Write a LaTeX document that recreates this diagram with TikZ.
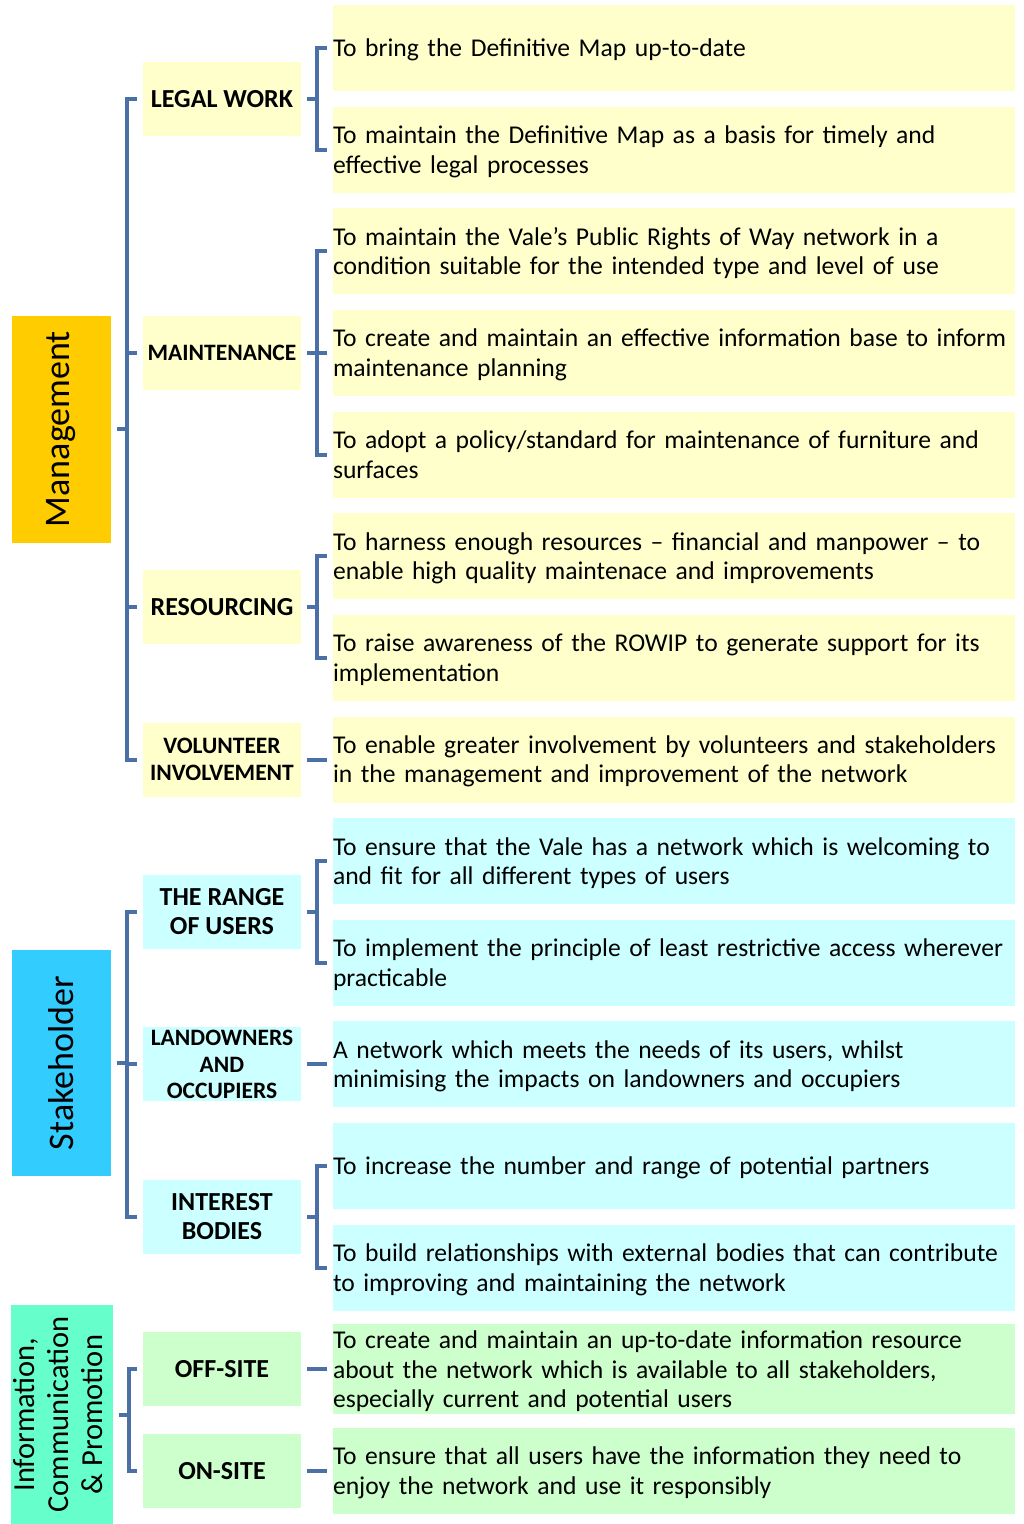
\documentclass[tikz,border=0pt]{standalone}
\usepackage{fontspec}
\setmainfont{Carlito}
\usetikzlibrary{positioning}

\definecolor{linkblue}{RGB}{74,112,165}
\definecolor{paleyellow}{RGB}{255,255,204}
\definecolor{palecyan}{RGB}{204,255,255}
\definecolor{palegreen}{RGB}{204,255,204}
\definecolor{mgmtgold}{RGB}{255,204,0}
\definecolor{stakeblue}{RGB}{51,204,255}
\definecolor{infoaqua}{RGB}{102,255,204}

\hyphenpenalty=10000
\newcommand\aimtop{\vrule height 0.95em depth 0pt width 0pt\relax}
\newcommand\aimbot{\vrule height 0pt depth 0.27em width 0pt\relax}

\tikzset{
  topic/.style={minimum width=99pt, inner sep=0pt, align=center,
    font=\fontsize{36}{40}\selectfont},
  theme/.style={minimum width=158pt, minimum height=74pt, inner sep=0pt,
    align=center, font=\bfseries\fontsize{26}{29}\selectfont},
  smalltheme/.style={theme, font=\bfseries\fontsize{23.5}{26.5}\selectfont},
  aim/.style={minimum width=682pt, minimum height=86pt, inner sep=0pt,
    text width=682pt, align=left, font=\fontsize{25.6}{29.5}\selectfont,
    execute at begin node=\aimtop, execute at end node=\aimbot},
  link/.style={draw=linkblue, line width=4pt}
}

\begin{document}
\begin{tikzpicture}[x=1pt,y=-1pt]
\useasboundingbox (0,0) rectangle (1024,1524);

% aims
\node[aim, fill=paleyellow] (a1) at (674,48) {To bring the Definitive Map up-to-date};
\node[aim, fill=paleyellow] (a2) at (674,149.6) {To maintain the Definitive Map as a basis for timely and\\effective legal processes};
\node[aim, fill=paleyellow] (a3) at (674,251.3) {To maintain the Vale’s Public Rights of Way network in a\\condition suitable for the intended type and level of use};
\node[aim, fill=paleyellow] (a4) at (674,352.9) {To create and maintain an effective information base to inform\\maintenance planning};
\node[aim, fill=paleyellow] (a5) at (674,454.6) {To adopt a policy/standard for maintenance of furniture and\\surfaces};
\node[aim, fill=paleyellow] (a6) at (674,556.2) {To harness enough resources – financial and manpower – to\\enable high quality maintenace and improvements};
\node[aim, fill=paleyellow] (a7) at (674,657.8) {To raise awareness of the ROWIP to generate support for its\\implementation};
\node[aim, fill=paleyellow] (a8) at (674,759.5) {To enable greater involvement by volunteers and stakeholders\\in the management and improvement of the network};
\node[aim, fill=palecyan] (a9) at (674,861.1) {To ensure that the Vale has a network which is welcoming to\\and fit for all different types of users};
\node[aim, fill=palecyan] (a10) at (674,962.8) {To implement the principle of least restrictive access wherever\\practicable};
\node[aim, fill=palecyan] (a11) at (674,1064.4) {A network which meets the needs of its users, whilst\\minimising the impacts on landowners and occupiers};
\node[aim, fill=palecyan] (a12) at (674,1166) {To increase the number and range of potential partners};
\node[aim, fill=palecyan] (a13) at (674,1267.7) {To build relationships with external bodies that can contribute\\to improving and maintaining the network};
\node[aim, fill=palegreen] (a14) at (674,1369.3) {To create and maintain an up-to-date information resource\\about the network which is available to all stakeholders,\\especially current and potential users};
\node[aim, fill=palegreen] (a15) at (674,1471) {To ensure that all users have the information they need to\\enjoy the network and use it responsibly};

% themes
\node[theme, fill=paleyellow] (legal) at (222,99) {LEGAL WORK};
\node[smalltheme, fill=paleyellow] (maint) at (222,352.9) {MAINTENANCE};
\node[theme, fill=paleyellow] (resrc) at (222,607) {RESOURCING};
\node[smalltheme, fill=paleyellow] (volun) at (222,759.5) {VOLUNTEER\\INVOLVEMENT};
\node[theme, fill=palecyan] (range) at (222,912) {THE RANGE\\OF USERS};
\node[smalltheme, fill=palecyan] (owners) at (222,1064.4) {LANDOWNERS\\AND\\OCCUPIERS};
\node[theme, fill=palecyan] (bodies) at (222,1216.8) {INTEREST\\BODIES};
\node[theme, fill=palegreen] (offsite) at (222,1369.3) {OFF-SITE};
\node[theme, fill=palegreen] (onsite) at (222,1471) {ON-SITE};

% topics
\node[topic, minimum height=227pt, fill=mgmtgold] (mgmt) at (61.5,429) {\rotatebox{90}{Management}};
\node[topic, minimum height=226pt, fill=stakeblue] (stake) at (61.5,1063) {\rotatebox{90}{Stakeholder}};
\node[topic, minimum height=219pt, fill=infoaqua, font=\fontsize{30.5}{34}\selectfont] (info) at (61.5,1414.5)
  {\rotatebox{90}{\begin{tabular}{@{}c@{}}Information,\\Communication\\\& Promotion\end{tabular}}};

% topic brackets
\draw[link] ([xshift=6pt]mgmt.east) -- ++(10,0);
\draw[link] ([xshift=-6pt]legal.west) -| ([xshift=16pt]mgmt.east) |- ([xshift=-6pt]volun.west);
\draw[link] ([xshift=16pt]mgmt.east) |- ([xshift=-6pt]maint.west);
\draw[link] ([xshift=16pt]mgmt.east) |- ([xshift=-6pt]resrc.west);

\draw[link] ([xshift=6pt]stake.east) -- ++(10,0);
\draw[link] ([xshift=-6pt]range.west) -| ([xshift=16pt]stake.east) |- ([xshift=-6pt]bodies.west);
\draw[link] ([xshift=16pt]stake.east) |- ([xshift=-6pt]owners.west);

\draw[link] ([xshift=6pt]info.east) -- ++(10,0);
\draw[link] ([xshift=-6pt]offsite.west) -| ([xshift=16pt]info.east) |- ([xshift=-6pt]onsite.west);

% theme brackets
\draw[link] ([xshift=6pt]legal.east) -- ++(10,0);
\draw[link] ([xshift=-6pt]a1.west) -| ([xshift=16pt]legal.east) |- ([xshift=-6pt]a2.west);

\draw[link] ([xshift=6pt]maint.east) -- ++(10,0);
\draw[link] ([xshift=-6pt]a3.west) -| ([xshift=16pt]maint.east) |- ([xshift=-6pt]a5.west);
\draw[link] ([xshift=16pt]maint.east) -- ([xshift=-6pt]a4.west);

\draw[link] ([xshift=6pt]resrc.east) -- ++(10,0);
\draw[link] ([xshift=-6pt]a6.west) -| ([xshift=16pt]resrc.east) |- ([xshift=-6pt]a7.west);

\draw[link] ([xshift=6pt]volun.east) -- ([xshift=-6pt]a8.west);

\draw[link] ([xshift=6pt]range.east) -- ++(10,0);
\draw[link] ([xshift=-6pt]a9.west) -| ([xshift=16pt]range.east) |- ([xshift=-6pt]a10.west);

\draw[link] ([xshift=6pt]owners.east) -- ([xshift=-6pt]a11.west);

\draw[link] ([xshift=6pt]bodies.east) -- ++(10,0);
\draw[link] ([xshift=-6pt]a12.west) -| ([xshift=16pt]bodies.east) |- ([xshift=-6pt]a13.west);

\draw[link] ([xshift=6pt]offsite.east) -- ([xshift=-6pt]a14.west);
\draw[link] ([xshift=6pt]onsite.east) -- ([xshift=-6pt]a15.west);
\end{tikzpicture}
\end{document}
